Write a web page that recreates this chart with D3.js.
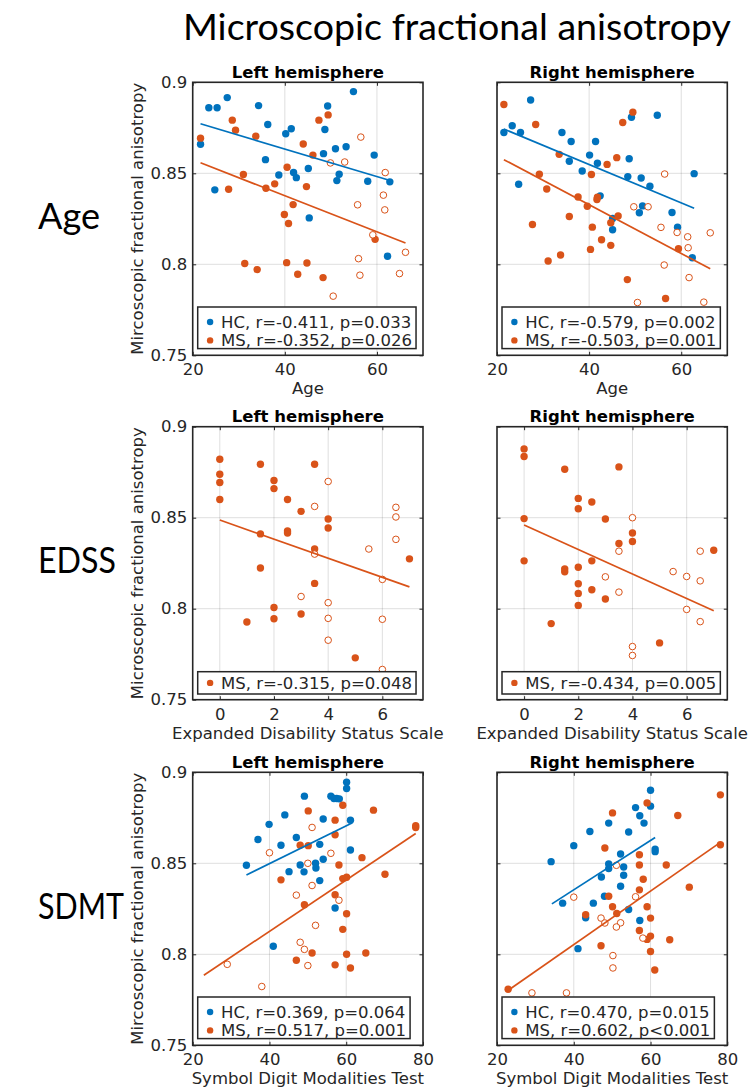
<!DOCTYPE html>
<html><head><meta charset="utf-8">
<script src="https://cdn.jsdelivr.net/npm/d3@7"></script>
<style>body{margin:0;background:#fff}</style>
</head><body><svg id="c" width="750" height="1091"></svg>
<script>
// ---------- DATA ----------
const yTicks = [0.75, 0.8, 0.85, 0.9];
const ageTicks = [20, 40, 60];
const edssTicks = [0, 2, 4, 6];
const sdmtTicks = [20, 40, 60, 80];

const ageLeftHC = [[21.7,0.866],[23.5,0.886],[25.3,0.886],[27.5,0.8916],[24.8,0.8409],[34.3,0.8872],[36.3,0.8768],[35.8,0.8575],[38.7,0.8491],[40.2,0.8717],[41.4,0.8745],[41.9,0.8504],[42.5,0.8476],[45.1,0.8526],[45.3,0.8255],[48.4,0.8608],[48.7,0.8741],[49.3,0.887],[51.0,0.8635],[51.8,0.8495],[51.3,0.846],[53.3,0.8646],[54.9,0.8949],[58.0,0.8456],[59.4,0.86],[62.8,0.8453],[62.3,0.8044]];
const ageLeftMS = [[21.7,0.8693],[28.6,0.8792],[29.3,0.8737],[27.8,0.8412],[31.0,0.8493],[31.3,0.8004],[33.7,0.8704],[34.0,0.7971],[35.9,0.8418],[37.8,0.8442],[39.9,0.8274],[40.5,0.8533],[40.8,0.8224],[40.4,0.8009],[41.8,0.8328],[42.8,0.7945],[44.0,0.8661],[44.7,0.8427],[44.8,0.8007],[46.1,0.86],[47.4,0.8792],[49.4,0.8821],[48.3,0.7927],[59.6,0.8137]];
const ageLeftMSopen = [[56.5,0.8699],[49.9,0.8557],[53.0,0.8562],[55.8,0.8327],[61.4,0.838],[61.7,0.8299],[61.8,0.8504],[59.1,0.8162],[56.0,0.8031],[56.3,0.794],[50.5,0.7825],[64.9,0.7949],[66.2,0.8066]];
const ageLeftHCFit = [[21.7,0.8772],[63.4,0.8456]];
const ageLeftMSFit = [[21.7,0.8558],[66.2,0.8117]];

const ageRightHC = [[21.5,0.8724],[23.3,0.8761],[25.1,0.8724],[27.3,0.8903],[24.7,0.844],[34.1,0.8724],[36.1,0.8675],[35.7,0.8566],[38.5,0.8513],[40.1,0.86],[41.4,0.8675],[41.8,0.8555],[42.4,0.8376],[45.1,0.8252],[45.1,0.819],[48.7,0.858],[48.4,0.8482],[49.2,0.8808],[51.3,0.8474],[51.6,0.8321],[50.9,0.8283],[53.2,0.8429],[54.8,0.8819],[58.0,0.8285],[59.2,0.8204],[62.8,0.8498],[62.4,0.8036]];
const ageRightMS = [[21.5,0.8878],[28.4,0.8768],[27.7,0.8219],[29.2,0.8495],[30.8,0.8414],[31.1,0.8018],[33.5,0.8604],[33.8,0.8051],[35.7,0.8263],[37.6,0.837],[39.6,0.8319],[40.5,0.8493],[40.7,0.8204],[40.3,0.8082],[41.7,0.8356],[41.8,0.8368],[42.7,0.8135],[43.9,0.8549],[44.7,0.8228],[44.7,0.8104],[46.0,0.8586],[46.3,0.8265],[47.3,0.8779],[49.5,0.8836],[48.3,0.7916],[56.6,0.7812],[59.4,0.8086]];
const ageRightMSopen = [[56.4,0.8496],[49.7,0.8316],[52.8,0.8316],[55.6,0.8203],[59.1,0.8175],[61.4,0.8151],[61.5,0.8091],[66.3,0.8173],[56.3,0.7996],[61.7,0.7927],[50.5,0.779],[64.9,0.7792]];
const ageRightHCFit = [[21.5,0.8743],[62.8,0.8308]];
const ageRightMSFit = [[21.5,0.8575],[66.3,0.7975]];

const edssLeftMS = [[0,0.8821],[0,0.8739],[0,0.8693],[0,0.86],[1.5,0.8794],[1.5,0.8411],[1.5,0.8224],[1,0.7927],[2,0.8704],[2,0.866],[2,0.8007],[2,0.7945],[2.5,0.86],[2.5,0.8427],[2.5,0.8416],[3,0.8535],[3,0.7971],[3.5,0.8794],[3.5,0.8328],[3.5,0.8139],[4,0.8493],[4,0.8443],[5,0.773],[7,0.8274]];
const edssLeftMSopen = [[3.5,0.8562],[3.5,0.83],[4,0.8699],[3,0.8067],[4,0.8033],[4,0.7947],[4,0.7827],[5.5,0.8328],[6,0.8161],[6,0.7942],[6,0.7666],[6.5,0.8557],[6.5,0.8504],[6.5,0.8381]];
const edssLeftMSFit = [[0,0.8487],[7,0.812]];

const edssRightMS = [[0,0.8878],[0,0.8836],[0,0.8495],[0,0.8263],[1.5,0.8766],[1,0.7918],[1.5,0.8219],[1.5,0.8203],[2,0.8606],[2,0.8549],[2,0.8228],[2,0.8137],[2,0.8084],[2,0.8018],[2.5,0.8586],[2.5,0.8263],[2.5,0.8104],[3,0.8493],[3,0.8053],[3.5,0.8779],[3.5,0.8358],[4,0.8416],[4,0.8369],[5,0.7812],[7,0.8321]];
const edssRightMSopen = [[4,0.85],[3.5,0.8316],[3,0.8175],[3.5,0.8091],[4,0.7792],[4,0.7743],[5.5,0.8204],[6,0.8177],[6.5,0.8316],[6.5,0.8153],[6,0.7996],[6.5,0.7929]];
const edssRightMSFit = [[0,0.846],[7,0.7989]];

const sdmtLeftHC = [[34.0,0.8489],[37.0,0.8631],[39.9,0.8714],[43.0,0.8599],[44.0,0.8766],[45.1,0.8454],[47.0,0.8642],[48.0,0.8491],[49.1,0.8869],[49.0,0.8453],[52.0,0.85],[52.1,0.8474],[53.1,0.8604],[53.1,0.8405],[54.0,0.8743],[54.0,0.8522],[56.0,0.8869],[56.8,0.8856],[57.5,0.8856],[58.2,0.8854],[57.1,0.8254],[60.1,0.8945],[60.1,0.8911],[61.1,0.8737],[61.1,0.8573],[41.0,0.8044]];
const sdmtLeftMS = [[50.1,0.8788],[48.0,0.8599],[50.1,0.8597],[43.0,0.8409],[49.1,0.8272],[57.1,0.8737],[57.1,0.8657],[59.1,0.8819],[58.1,0.8491],[57.1,0.8327],[59.1,0.8416],[60.1,0.8423],[60.1,0.8223],[59.1,0.8137],[60.1,0.80],[61.1,0.7925],[57.1,0.7942],[51.1,0.8007],[47.0,0.7967],[64.1,0.8531],[65.1,0.8007],[67.1,0.8792],[70.1,0.844],[78.1,0.8697],[78.1,0.8707]];
const sdmtLeftMSopen = [[51.1,0.8697],[40.0,0.8558],[56.0,0.8555],[50.0,0.85],[51.1,0.8378],[47.0,0.8325],[58.1,0.8297],[52.0,0.8159],[48.0,0.8066],[49.1,0.8027],[50.0,0.7938],[29.0,0.7945],[38.0,0.7823]];
const sdmtLeftHCFit = [[34.0,0.8436],[61.5,0.8721]];
const sdmtLeftMSFit = [[22.9,0.7885],[78.1,0.8664]];

const sdmtRightHC = [[34.1,0.8509],[37.1,0.8281],[40.0,0.8597],[41.1,0.8031],[43.1,0.8201],[44.2,0.8675],[45.1,0.8281],[47.2,0.8425],[48.0,0.8319],[49.1,0.8721],[49.1,0.8496],[49.1,0.8471],[52.2,0.8551],[52.2,0.8374],[53.0,0.848],[53.0,0.8434],[54.3,0.8672],[54.3,0.8246],[56.1,0.8806],[57.2,0.8761],[58.3,0.8721],[57.2,0.8186],[60.0,0.8901],[60.0,0.8814],[61.2,0.8578],[61.2,0.8564]];
const sdmtRightMS = [[22.9,0.7808],[43.1,0.8217],[47.1,0.8047],[48.1,0.8584],[49.1,0.8319],[50.1,0.8777],[50.1,0.8261],[51.2,0.8224],[57.1,0.8547],[57.1,0.8491],[58.1,0.8412],[57.1,0.8354],[59.1,0.8832],[59.1,0.8261],[60.0,0.8199],[57.1,0.8131],[59.1,0.8082],[60.0,0.81],[60.0,0.8015],[61.1,0.7914],[64.1,0.8491],[65.0,0.808],[67.1,0.8763],[70.1,0.8369],[78.2,0.8876],[78.2,0.8602]];
const sdmtRightMSopen = [[40.0,0.8314],[47.1,0.8199],[48.1,0.8172],[51.1,0.8489],[52.2,0.8173],[51.1,0.815],[50.2,0.7993],[50.2,0.7925],[29.1,0.7788],[38.1,0.7788],[56.1,0.8316],[58.0,0.8089]];
const sdmtRightHCFit = [[34.3,0.8277],[61.2,0.8642]];
const sdmtRightMSFit = [[23.6,0.7812],[78.2,0.8615]];

const ageLeftLegend = ["HC, r=-0.411, p=0.033", "MS, r=-0.352, p=0.026"];
const ageRightLegend = ["HC, r=-0.579, p=0.002", "MS, r=-0.503, p=0.001"];
const edssLeftLegend = ["MS, r=-0.315, p=0.048"];
const edssRightLegend = ["MS, r=-0.434, p=0.005"];
const sdmtLeftLegend = ["HC, r=0.369, p=0.064", "MS, r=0.517, p=0.001"];
const sdmtRightLegend = ["HC, r=0.470, p=0.015", "MS, r=0.602, p<0.001"];

const rowLabels = ["Age", "EDSS", "SDMT"];
const xLabels = ["Age", "Expanded Disability Status Scale", "Symbol Digit Modalities Test"];
const yLabels = ["Mircoscopic fractional anisotropy", "Microscopic fractional anisotropy", "Mircoscopic fractional anisotropy"];
const panelTitles = ["Left hemisphere", "Right hemisphere"];
const mainTitle = "Microscopic fractional anisotropy";

// ---------- DRAWING ----------
const svg = d3.select("#c");
const FONT = "'DejaVu Sans', sans-serif";
const TXT = "#262626";
const BLUE = "#0072BD", ORANGE = "#D95319";
const FS = 16.5;

const colLeft = [192.7, 497];
const colW = 230.3;
const rowTop = [82.3, 426.7, 772.3];
const rowH = 273;
const rowLabelWidths = [62, 78, 86];

function drawPanel(p) {
  const x = d3.scaleLinear().domain(p.xDomain).range([p.left, p.left + colW]);
  const y = d3.scaleLinear().domain([0.75, 0.9]).range([p.top + rowH, p.top]);
  const g = svg.append("g");
  // grid
  g.append("g").selectAll("line").data(p.xTicks).join("line")
    .attr("x1", d => x(d)).attr("x2", d => x(d)).attr("y1", p.top).attr("y2", p.top + rowH)
    .attr("stroke", "#262626").attr("stroke-opacity", 0.15).attr("stroke-width", 1);
  g.append("g").selectAll("line").data(yTicks).join("line")
    .attr("y1", d => y(d)).attr("y2", d => y(d)).attr("x1", p.left).attr("x2", p.left + colW)
    .attr("stroke", "#262626").attr("stroke-opacity", 0.15).attr("stroke-width", 1);
  // points
  if (p.hc) g.append("g").selectAll("circle").data(p.hc).join("circle")
    .attr("cx", d => x(d[0])).attr("cy", d => y(d[1])).attr("r", 3.7).attr("fill", BLUE);
  g.append("g").selectAll("circle").data(p.ms).join("circle")
    .attr("cx", d => x(d[0])).attr("cy", d => y(d[1])).attr("r", 3.7).attr("fill", ORANGE);
  g.append("g").selectAll("circle").data(p.msOpen).join("circle")
    .attr("cx", d => x(d[0])).attr("cy", d => y(d[1])).attr("r", 3.3)
    .attr("fill", "#fff").attr("stroke", ORANGE).attr("stroke-width", 1);
  // fits
  const line = d3.line().x(d => x(d[0])).y(d => y(d[1]));
  if (p.hcFit) g.append("path").attr("d", line(p.hcFit)).attr("stroke", BLUE).attr("stroke-width", 1.7).attr("fill", "none");
  g.append("path").attr("d", line(p.msFit)).attr("stroke", ORANGE).attr("stroke-width", 1.7).attr("fill", "none");
  // axes
  const bottom = g.append("g").attr("transform", `translate(0,${p.top + rowH})`)
    .call(d3.axisBottom(x).tickValues(p.xTicks).tickSizeInner(-3.5).tickSizeOuter(0).tickPadding(8.3).tickFormat(d3.format("d")));
  const top = g.append("g").attr("transform", `translate(0,${p.top})`)
    .call(d3.axisTop(x).tickValues(p.xTicks).tickSizeInner(-3.5).tickSizeOuter(0).tickFormat(""));
  const left = g.append("g").attr("transform", `translate(${p.left},0)`)
    .call(d3.axisLeft(y).tickValues(yTicks).tickSizeInner(-3.5).tickSizeOuter(0).tickPadding(5.5)
      .tickFormat(p.showY ? (d => String(d)) : ""));
  const right = g.append("g").attr("transform", `translate(${p.left + colW},0)`)
    .call(d3.axisRight(y).tickValues(yTicks).tickSizeInner(-3.5).tickSizeOuter(0).tickFormat(""));
  [bottom, top, left, right].forEach(a => {
    a.select(".domain").remove();
    a.selectAll("line").attr("stroke", TXT).attr("stroke-width", 1);
    a.selectAll("text").attr("font-family", FONT).attr("font-size", FS).attr("fill", TXT);
  });
  // frame
  g.append("rect").attr("x", p.left).attr("y", p.top).attr("width", colW).attr("height", rowH)
    .attr("fill", "none").attr("stroke", TXT).attr("stroke-width", 1.6);
  // legend
  const n = p.legend.length;
  const lh = n === 2 ? 41.6 : 22.3;
  const lg = g.append("g");
  const rect = lg.append("rect");
  const lx = p.left + 5, ly = p.top + rowH - (n === 2 ? 6.7 : 5.7) - lh;
  const colors = n === 2 ? [BLUE, ORANGE] : [ORANGE];
  let maxW = 0;
  p.legend.forEach((t, i) => {
    const cy = ly + (n === 2 ? 15 + i * 18.4 : 11.2);
    lg.append("circle").attr("cx", lx + 12.4).attr("cy", cy).attr("r", 3.2).attr("fill", colors[i]);
    const tx = lg.append("text").attr("x", lx + 23.3).attr("y", cy).attr("dy", "0.36em")
      .attr("font-family", FONT).attr("font-size", FS).attr("fill", TXT).text(t);
    maxW = Math.max(maxW, tx.node().getComputedTextLength());
  });
  rect.attr("x", lx).attr("y", ly).attr("width", 23.3 + maxW + 4).attr("height", lh)
    .attr("fill", "#fff").attr("stroke", TXT).attr("stroke-width", 1.5);
  // title
  g.append("text").attr("x", p.left + colW / 2).attr("y", p.top - 4.5).attr("text-anchor", "middle")
    .attr("font-family", FONT).attr("font-weight", "bold").attr("font-size", FS).attr("fill", "#000").text(p.title);
  // x label
  g.append("text").attr("x", p.left + colW / 2).attr("y", p.top + rowH + 39).attr("text-anchor", "middle")
    .attr("font-family", FONT).attr("font-size", FS).attr("fill", TXT).text(p.xlabel);
  if (p.ylabel) {
    g.append("text").attr("transform", `translate(143,${p.top + rowH / 2}) rotate(-90)`).attr("text-anchor", "middle")
      .attr("font-family", FONT).attr("font-size", FS).attr("fill", TXT).text(p.ylabel);
  }
}

const rows = [
  { xDomain: [20, 70], xTicks: ageTicks, L: { hc: ageLeftHC, ms: ageLeftMS, msOpen: ageLeftMSopen, hcFit: ageLeftHCFit, msFit: ageLeftMSFit, legend: ageLeftLegend },
    R: { hc: ageRightHC, ms: ageRightMS, msOpen: ageRightMSopen, hcFit: ageRightHCFit, msFit: ageRightMSFit, legend: ageRightLegend } },
  { xDomain: [-1, 7.5], xTicks: edssTicks, L: { hc: null, ms: edssLeftMS, msOpen: edssLeftMSopen, hcFit: null, msFit: edssLeftMSFit, legend: edssLeftLegend },
    R: { hc: null, ms: edssRightMS, msOpen: edssRightMSopen, hcFit: null, msFit: edssRightMSFit, legend: edssRightLegend } },
  { xDomain: [20, 80], xTicks: sdmtTicks, L: { hc: sdmtLeftHC, ms: sdmtLeftMS, msOpen: sdmtLeftMSopen, hcFit: sdmtLeftHCFit, msFit: sdmtLeftMSFit, legend: sdmtLeftLegend },
    R: { hc: sdmtRightHC, ms: sdmtRightMS, msOpen: sdmtRightMSopen, hcFit: sdmtRightHCFit, msFit: sdmtRightMSFit, legend: sdmtRightLegend } }
];

rows.forEach((r, i) => {
  ["L", "R"].forEach((side, j) => {
    drawPanel(Object.assign({}, r[side], {
      xDomain: r.xDomain, xTicks: r.xTicks, left: colLeft[j], top: rowTop[i],
      showY: j === 0, title: panelTitles[j], xlabel: xLabels[i], ylabel: j === 0 ? yLabels[i] : null
    }));
  });
  svg.append("text").attr("x", 38).attr("y", rowTop[i] + rowH / 2 + 10).attr("text-anchor", "start")
    .attr("font-family", "Lato, 'Open Sans', sans-serif").attr("font-size", 37).attr("fill", "#000")
    .attr("textLength", rowLabelWidths[i]).attr("lengthAdjust", "spacingAndGlyphs").text(rowLabels[i]);
});

svg.append("text").attr("x", 457).attr("y", 40).attr("text-anchor", "middle")
  .attr("font-family", "Lato, 'Open Sans', sans-serif").attr("font-size", 37).attr("fill", "#000")
  .attr("textLength", 548).attr("lengthAdjust", "spacingAndGlyphs").text(mainTitle);
</script></body></html>
